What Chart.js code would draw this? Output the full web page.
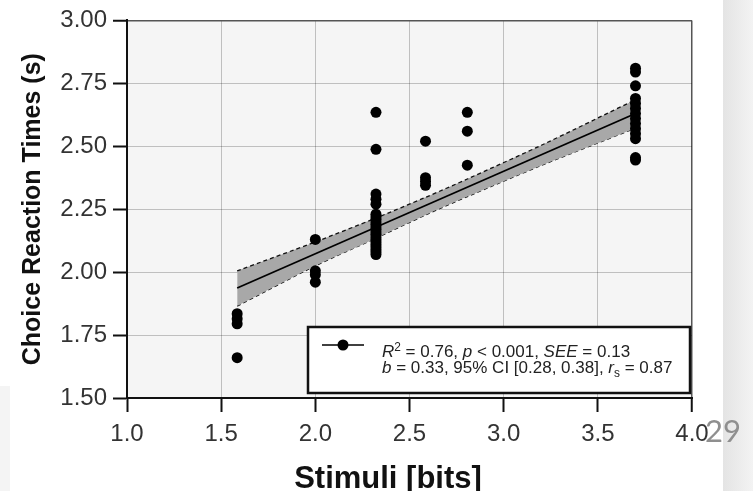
<!DOCTYPE html>
<html>
<head>
<meta charset="utf-8">
<title>Choice reaction times vs stimuli</title>
<script src="https://cdn.jsdelivr.net/npm/chart.js@4.4.1/dist/chart.umd.min.js"></script>
<style>
  html, body { margin: 0; padding: 0; background: #fff; }
  #wrap { width: 753px; height: 491px; }
</style>
</head>
<body>
<div id="wrap"><canvas id="chart" width="753" height="491"></canvas></div>
<script>
// ============================================
// Choice reaction time vs stimulus information (bits)
// values
// ============================================

// stimulus levels (bits) – one column of points per level
const stimulusBits = [1.585, 2.0, 2.322, 2.585, 2.807, 3.70];

// reaction times (s) per stimulus level
const rt1585 = [1.835, 1.815, 1.795, 1.66];
const rt2000 = [2.13, 2.005, 1.99, 1.96];
const rt2322 = [2.635, 2.488, 2.31, 2.29, 2.27, 2.23, 2.22, 2.21, 2.20, 2.19, 2.18,
                2.17, 2.16, 2.15, 2.14, 2.13, 2.12, 2.11, 2.10, 2.09, 2.08, 2.07];
const rt2585 = [2.52, 2.375, 2.36, 2.345];
const rt2807 = [2.635, 2.56, 2.425];
const rt3700 = [2.81, 2.795, 2.74, 2.69, 2.67, 2.65, 2.63, 2.61, 2.59, 2.57,
                2.55, 2.53, 2.455, 2.445];
const reactionTimes = [rt1585, rt2000, rt2322, rt2585, rt2807, rt3700];

// regression line end points
const fitX = [1.585, 3.70];
const fitY = [1.937, 2.63];

// 95% confidence band
const bandX = [1.585, 2.0, 2.322, 2.585, 2.807, 3.2, 3.70];
const bandUpper = [2.005, 2.12, 2.215, 2.297, 2.37, 2.504, 2.685];
const bandLower = [1.865, 2.025, 2.135, 2.227, 2.30, 2.424, 2.572];

// axis ticks
const xTicks = [1.0, 1.5, 2.0, 2.5, 3.0, 3.5, 4.0];
const xTickLabels = ['1.0', '1.5', '2.0', '2.5', '3.0', '3.5', '4.0'];
const yTicks = [1.50, 1.75, 2.00, 2.25, 2.50, 2.75, 3.00];
const yTickLabels = ['1.50', '1.75', '2.00', '2.25', '2.50', '2.75', '3.00'];

const FONT = "'Liberation Sans', Arial, Helvetica, sans-serif";
Chart.defaults.font.family = FONT;

// ---- build datasets ----
const points = [];
stimulusBits.forEach((bits, i) => {
    reactionTimes[i].forEach(rt => points.push({ x: bits, y: rt }));
});
const fitLine = fitX.map((x, i) => ({ x: x, y: fitY[i] }));
const upperLine = bandX.map((x, i) => ({ x: x, y: bandUpper[i] }));
const lowerLine = bandX.map((x, i) => ({ x: x, y: bandLower[i] }));

// background: page strip, plot area shading
const backdrop = {
    id: 'backdrop',
    beforeDraw(chart) {
        const { ctx, chartArea: a } = chart;
        ctx.save();
        ctx.fillStyle = '#fff';
        ctx.fillRect(0, 0, chart.width, chart.height);
        // slide edge on the right
        const g = ctx.createLinearGradient(723, 0, 753, 0);
        g.addColorStop(0, '#e4e4e4');
        g.addColorStop(1, '#f3f3f3');
        ctx.fillStyle = g;
        ctx.fillRect(723, 0, 30, chart.height);
        ctx.fillStyle = '#f4f4f4';
        ctx.fillRect(0, 386, 10, chart.height - 386);
        ctx.fillStyle = '#f5f5f5';
        ctx.fillRect(a.left, a.top, a.right - a.left, a.bottom - a.top);
        ctx.restore();
    }
};

// draws a run of text pieces, some italic / super- / subscript
function drawRuns(ctx, runs, x, y, size) {
    runs.forEach(r => {
        const s = r.sup || r.sub ? size * 0.7 : size;
        ctx.font = (r.it ? 'italic ' : '') + s + 'px ' + FONT;
        const dy = r.sup ? -size * 0.38 : (r.sub ? size * 0.22 : 0);
        ctx.fillText(r.t, x, y + dy);
        x += ctx.measureText(r.t).width;
    });
}

// legend box with fit statistics, x-axis title, slide number
const annotations = {
    id: 'annotations',
    afterDraw(chart) {
        const { ctx } = chart;
        ctx.save();

        // legend box
        ctx.fillStyle = '#fff';
        ctx.fillRect(308, 327, 382, 66);
        ctx.strokeStyle = '#111';
        ctx.lineWidth = 2.5;
        ctx.strokeRect(308, 327, 382, 66);

        ctx.strokeStyle = '#000';
        ctx.lineWidth = 1.5;
        ctx.beginPath();
        ctx.moveTo(322, 345);
        ctx.lineTo(364, 345);
        ctx.stroke();
        ctx.fillStyle = '#000';
        ctx.beginPath();
        ctx.arc(343, 345, 5.5, 0, Math.PI * 2);
        ctx.fill();

        ctx.fillStyle = '#222';
        ctx.textAlign = 'left';
        ctx.textBaseline = 'alphabetic';
        drawRuns(ctx, [
            { t: 'R', it: true }, { t: '2', sup: true }, { t: ' = 0.76, ' },
            { t: 'p', it: true }, { t: ' < 0.001, ' },
            { t: 'SEE', it: true }, { t: ' = 0.13' }
        ], 382, 357, 17);
        drawRuns(ctx, [
            { t: 'b', it: true }, { t: ' = 0.33, 95% CI [0.28, 0.38], ' },
            { t: 'r', it: true }, { t: 's', sub: true }, { t: ' = 0.87' }
        ], 382, 373, 17);

        // x axis title
        ctx.fillStyle = '#111';
        ctx.textAlign = 'center';
        ctx.font = 'bold 31px ' + FONT;
        ctx.fillText('Stimuli [bits]', 388, 488);

        // slide page number
        ctx.fillStyle = '#8f8f8f';
        ctx.textAlign = 'right';
        ctx.font = '31px Lato, ' + FONT;
        ctx.fillText('29', 741, 442);
        ctx.restore();
    }
};

const gridColor = (edgeValue) => (c) =>
    c.tick && c.tick.value === edgeValue ? '#555' : 'rgba(0, 0, 0, 0.22)';
const gridWidth = (edgeValue) => (c) =>
    c.tick && c.tick.value === edgeValue ? 1.5 : 1;

new Chart(document.getElementById('chart'), {
    type: 'scatter',
    data: {
        datasets: [
            {
                label: 'Reaction time',
                data: points,
                pointRadius: 5.5,
                pointBackgroundColor: '#000',
                pointBorderWidth: 0,
                order: 0
            },
            {
                type: 'line',
                label: 'Fit',
                data: fitLine,
                borderColor: '#000',
                borderWidth: 1.8,
                pointRadius: 0,
                fill: false,
                order: 1
            },
            {
                type: 'line',
                label: 'CI upper',
                data: upperLine,
                borderColor: '#111',
                borderWidth: 1.3,
                borderDash: [4, 3],
                backgroundColor: '#a8a8a8',
                pointRadius: 0,
                tension: 0.3,
                fill: '+1',
                order: 2
            },
            {
                type: 'line',
                label: 'CI lower',
                data: lowerLine,
                borderColor: '#111',
                borderWidth: 1.3,
                borderDash: [4, 3],
                pointRadius: 0,
                tension: 0.3,
                fill: false,
                order: 2
            }
        ]
    },
    options: {
        responsive: false,
        animation: false,
        devicePixelRatio: 1,
        layout: { padding: { left: 0, right: 61, top: 20, bottom: 0 } },
        plugins: {
            legend: { display: false },
            tooltip: { enabled: false }
        },
        scales: {
            x: {
                type: 'linear',
                min: 1.0,
                max: 4.0,
                afterFit: s => { s.height = 93; },
                afterBuildTicks: s => { s.ticks = xTicks.map(v => ({ value: v })); },
                grid: {
                    color: gridColor(4.0),
                    lineWidth: gridWidth(4.0),
                    tickColor: '#111',
                    tickWidth: 2,
                    tickLength: 14
                },
                border: { display: true, color: '#111', width: 2 },
                ticks: {
                    color: '#333',
                    font: { size: 24 },
                    padding: 8,
                    maxRotation: 0,
                    callback: (v, i) => xTickLabels[i]
                },
                title: { display: false }
            },
            y: {
                type: 'linear',
                min: 1.5,
                max: 3.0,
                afterFit: s => { s.width = 127; },
                afterBuildTicks: s => { s.ticks = yTicks.map(v => ({ value: v })); },
                grid: {
                    color: gridColor(3.0),
                    lineWidth: gridWidth(3.0),
                    tickColor: '#111',
                    tickWidth: 2,
                    tickLength: 14
                },
                border: { display: true, color: '#111', width: 2 },
                ticks: {
                    color: '#333',
                    font: { size: 24 },
                    padding: 6,
                    callback: (v, i) => yTickLabels[i]
                },
                title: {
                    display: true,
                    text: 'Choice Reaction Times (s)',
                    color: '#111',
                    font: { size: 25, weight: 'bold' },
                    padding: { top: 18, bottom: 0 }
                }
            }
        }
    },
    plugins: [backdrop, annotations]
});
</script>
</body>
</html>
